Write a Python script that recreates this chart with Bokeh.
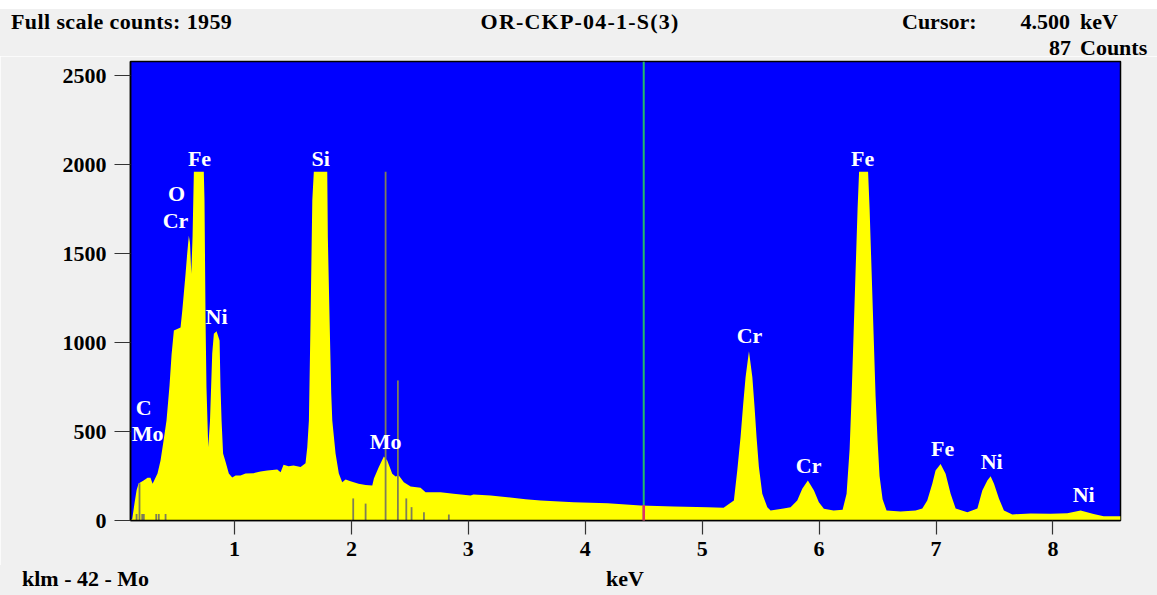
from bokeh.plotting import figure
from bokeh.models import Range1d, Label, Span, FixedTicker, Div
from bokeh.layouts import column
from bokeh.embed import file_html
from bokeh.resources import INLINE

# ---------------- data ----------------
ENERGY_KEV = [0.110, 0.125, 0.145, 0.162, 0.179, 0.222, 0.256, 0.281, 0.299, 0.341,
              0.367, 0.393, 0.418, 0.444, 0.461, 0.481, 0.538, 0.553, 0.566, 0.581,
              0.595, 0.609, 0.619, 0.630, 0.641, 0.652, 0.737, 0.743, 0.752, 0.760,
              0.775, 0.790, 0.809, 0.823, 0.846, 0.872, 0.880, 0.889, 0.902, 0.923,
              0.951, 0.980, 1.009, 1.051, 1.094, 1.163, 1.222, 1.280, 1.365, 1.394,
              1.419, 1.462, 1.505, 1.565, 1.607, 1.622, 1.636, 1.650, 1.665, 1.678,
              1.793, 1.798, 1.813, 1.827, 1.836, 1.864, 1.892, 1.921, 1.950, 1.992,
              2.061, 2.121, 2.178, 2.192, 2.234, 2.277, 2.306, 2.349, 2.377, 2.405,
              2.448, 2.506, 2.591, 2.634, 2.762, 2.873, 3.019, 3.044, 3.190, 3.335,
              3.489, 3.618, 3.900, 4.191, 4.473, 4.755, 5.046, 5.183, 5.271, 5.300,
              5.328, 5.351, 5.371, 5.400, 5.429, 5.448, 5.465, 5.485, 5.514, 5.557,
              5.585, 5.696, 5.756, 5.813, 5.856, 5.904, 5.956, 5.998, 6.041, 6.124,
              6.201, 6.235, 6.261, 6.278, 6.295, 6.312, 6.329, 6.342, 6.419, 6.432,
              6.449, 6.466, 6.483, 6.500, 6.517, 6.543, 6.577, 6.697, 6.825, 6.883,
              6.925, 6.968, 6.996, 7.039, 7.082, 7.125, 7.168, 7.268, 7.354, 7.396,
              7.439, 7.467, 7.496, 7.538, 7.581, 7.653, 7.809, 7.980, 8.123, 8.237,
              8.348, 8.434, 8.579]
COUNTS = [0, 10, 100, 170, 208, 225, 240, 240, 207, 264,
          337, 450, 562, 760, 930, 1067, 1084, 1180, 1275, 1387,
          1500, 1600, 1560, 1387, 1600, 1959, 1959, 1798, 1124, 747,
          412, 560, 938, 1050, 1063, 1011, 747, 562, 376, 330,
          264, 242, 253, 253, 264, 266, 275, 281, 287, 271,
          313, 305, 309, 300, 322, 412, 562, 1124, 1798, 1959,
          1959, 1590, 1124, 713, 562, 376, 264, 215, 230, 221,
          207, 200, 197, 236, 300, 360, 337, 262, 247, 253,
          215, 191, 184, 159, 159, 150, 140, 146, 140, 131,
          120, 112, 103, 97, 84, 79, 75, 71, 112, 281,
          468, 656, 805, 951, 805, 637, 468, 300, 150, 75,
          56, 67, 75, 112, 178, 225, 169, 103, 66, 56,
          60, 150, 400, 700, 1050, 1400, 1750, 1959, 1959, 1750,
          1400, 1050, 700, 450, 250, 120, 56, 50, 56, 67,
          112, 206, 281, 318, 262, 150, 67, 47, 67, 169,
          225, 249, 206, 123, 56, 34, 40, 38, 41, 56,
          37, 24, 24]

# KLM marker lines for Mo (energy, height in counts)
MO_LINE_KEV = [0.162, 0.187, 0.210, 0.224, 0.330, 0.352, 0.410,
               2.015, 2.121, 2.292, 2.397, 2.469, 2.514, 2.620, 2.833]
MO_LINE_HEIGHT = [37, 210, 37, 37, 37, 37, 37,
                  124, 95, 1959, 787, 124, 75, 47, 34]

# Peak labels
PEAK_TEXT = ["Fe", "O", "Cr", "Ni", "Si", "C", "Mo", "Mo",
             "Cr", "Cr", "Fe", "Fe", "Ni", "Ni"]
PEAK_KEV = [0.700, 0.504, 0.495, 0.846, 1.736, 0.222, 0.256, 2.292,
            5.405, 5.910, 6.372, 7.057, 7.476, 8.263]
PEAK_LABEL_Y = [2034, 1837, 1685, 1146, 2034, 635, 489, 444,
                1039, 309, 2034, 404, 331, 146]

Y_TICKS = [0, 500, 1000, 1500, 2000, 2500]
X_TICKS = [1, 2, 3, 4, 5, 6, 7, 8]

CURSOR_KEV = 4.5
CURSOR_COUNTS = 87
FULL_SCALE = 1959
TITLE = "OR-CKP-04-1-S(3)"
X_LABEL = "keV"
KLM_TEXT = "klm - 42 - Mo"

# ---------------- styling ----------------
FONT = "Liberation Serif"
FS = "22px"
BG = "#F0F0F0"
TXT = f"font-family:'{FONT}';font-weight:bold;font-size:{FS};line-height:22px;color:#000;white-space:pre;position:absolute;"

# header (above the plot)
header_html = (
    f'<div style="position:relative;width:1157px;height:56px;background:{BG};'
    f'border-top:9px solid #ffffff;box-sizing:border-box;margin:0;padding:0;">'
    f'<span style="{TXT}left:11px;top:2px;letter-spacing:0.4px;">Full scale counts: {FULL_SCALE}</span>'
    f'<span style="{TXT}left:580px;top:2px;transform:translateX(-50%);letter-spacing:1.2px;">{TITLE}</span>'
    f'<span style="{TXT}left:902px;top:2px;">Cursor:</span>'
    f'<span style="{TXT}right:87px;top:2px;">{CURSOR_KEV:.3f}</span>'
    f'<span style="{TXT}left:1080px;top:2px;">keV</span>'
    f'<span style="{TXT}right:86px;top:28px;">{CURSOR_COUNTS}</span>'
    f'<span style="{TXT}left:1080px;top:28px;">Counts</span>'
    f'</div>'
)
header = Div(text=header_html, width=1157, height=56, margin=(0, 0, 0, 0))

footer_html = (
    f'<div style="position:relative;width:1157px;height:30px;background:{BG};margin:0;padding:0;">'
    f'<span style="{TXT}left:22px;top:3px;">{KLM_TEXT}</span>'
    f'<span style="{TXT}left:625px;top:3px;transform:translateX(-50%);">{X_LABEL}</span>'
    f'</div>'
)
footer = Div(text=footer_html, width=1157, height=30, margin=(0, 0, 0, 0))

# ---------------- figure ----------------
p = figure(width=1157, height=509, output_backend="svg", toolbar_location=None,
           x_range=Range1d(0.110, 8.578), y_range=Range1d(0, 2579), margin=(0, 0, 0, 0))
p.min_border = 0
p.min_border_left = 130
p.min_border_right = 37
p.min_border_top = 5
p.min_border_bottom = 45
p.background_fill_color = "#0000FF"
p.border_fill_color = BG
p.outline_line_color = "black"
p.outline_line_width = 1.5
p.xgrid.visible = False
p.ygrid.visible = False

for ax in (p.xaxis[0], p.yaxis[0]):
    ax.axis_line_color = "black"
    ax.axis_line_width = 1.5
    ax.major_tick_line_color = "#333333"
    ax.major_tick_line_width = 1.2
    ax.major_tick_in = 0
    ax.minor_tick_line_color = None
    ax.major_label_text_font = FONT
    ax.major_label_text_font_style = "bold"
    ax.major_label_text_font_size = FS
    ax.major_label_text_color = "black"

p.yaxis.ticker = FixedTicker(ticks=Y_TICKS)
p.xaxis.ticker = FixedTicker(ticks=X_TICKS)
p.yaxis.major_tick_out = 16
p.xaxis.major_tick_out = 14
p.yaxis.major_label_standoff = 8
p.xaxis.major_label_standoff = 7

# spectrum
p.varea(x=ENERGY_KEV, y1=[0] * len(COUNTS), y2=COUNTS, fill_color="#FFFF00")

# marker lines
p.segment(x0=MO_LINE_KEV, y0=[0] * len(MO_LINE_KEV), x1=MO_LINE_KEV, y1=MO_LINE_HEIGHT,
          line_color="#7E7E58", line_width=1.8)

# cursor: green above the spectrum, red inside it
p.add_layout(Span(location=CURSOR_KEV, dimension="height", line_color="#22BB6A", line_width=2))
p.segment(x0=[CURSOR_KEV], y0=[0], x1=[CURSOR_KEV], y1=[CURSOR_COUNTS],
          line_color="#E0306A", line_width=2.5, level="overlay")

# peak labels
for t, xk, yc in zip(PEAK_TEXT, PEAK_KEV, PEAK_LABEL_Y):
    p.add_layout(Label(x=xk, y=yc, text=t, text_align="center", text_baseline="middle",
                       text_font=FONT, text_font_style="bold", text_font_size=FS,
                       text_color="white"))

layout = column(header, p, footer, spacing=0, margin=(0, 0, 0, 0))

open("out.html", "w").write(file_html(layout, INLINE))
